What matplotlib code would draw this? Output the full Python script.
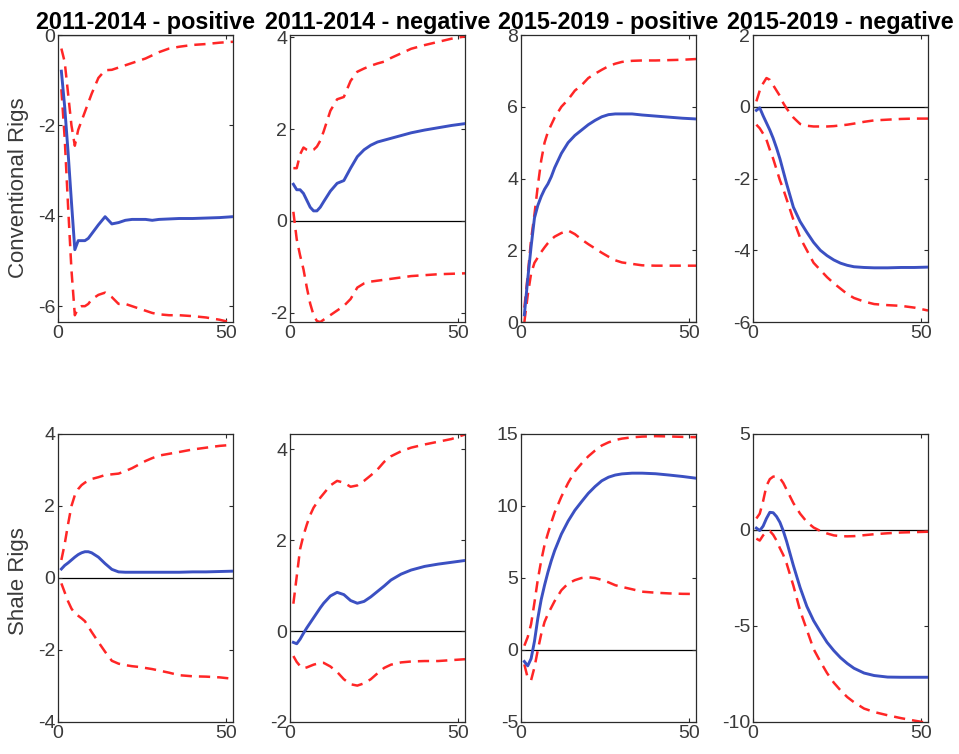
import matplotlib
matplotlib.use("Agg")
import matplotlib.pyplot as plt

plt.rcParams['font.family'] = ['Liberation Sans', 'DejaVu Sans']
plt.rcParams['axes.unicode_minus'] = False

# Horizon (weeks after the shock)
weeks = [1, 2, 3, 4, 5, 6, 7, 8, 9, 10, 12, 14, 16, 18, 20, 22, 24, 26, 28, 30, 33, 36, 40, 44, 48, 52]

col_titles = ["2011-2014 - positive", "2011-2014 - negative",
              "2015-2019 - positive", "2015-2019 - negative"]
row_labels = ["Conventional Rigs", "Shale Rigs"]

# Conventional rigs: impulse response (irf) with upper / lower bands
conv_1114_pos_irf = [-0.8, -1.6, -2.6, -3.7, -4.75, -4.55, -4.55, -4.55, -4.5, -4.4, -4.2, -4.02, -4.18, -4.15,
                     -4.1, -4.08, -4.08, -4.08, -4.1, -4.08, -4.07, -4.06, -4.06, -4.05, -4.04, -4.02]
conv_1114_pos_hi = [-0.3, -0.6, -1.3, -2.0, -2.45, -2.1, -1.9, -1.7, -1.5, -1.3, -0.95, -0.78, -0.77, -0.72,
                    -0.67, -0.62, -0.57, -0.52, -0.45, -0.38, -0.3, -0.26, -0.22, -0.2, -0.17, -0.15]
conv_1114_pos_lo = [-1.2, -2.3, -3.8, -5.2, -6.2, -6.05, -6.0, -6.0, -5.95, -5.85, -5.75, -5.7, -5.8, -5.95,
                    -5.95, -6.0, -6.05, -6.1, -6.15, -6.18, -6.2, -6.2, -6.22, -6.25, -6.3, -6.37]

conv_1114_neg_irf = [0.8, 0.68, 0.68, 0.6, 0.45, 0.3, 0.22, 0.22, 0.3, 0.42, 0.65, 0.82, 0.88, 1.15,
                     1.4, 1.55, 1.65, 1.72, 1.76, 1.8, 1.86, 1.92, 1.98, 2.03, 2.08, 2.12]
conv_1114_neg_hi = [1.15, 1.15, 1.45, 1.6, 1.55, 1.52, 1.55, 1.62, 1.75, 1.95, 2.4, 2.65, 2.7, 3.05,
                    3.25, 3.32, 3.38, 3.43, 3.47, 3.55, 3.65, 3.75, 3.83, 3.9, 3.97, 4.02]
conv_1114_neg_lo = [0.2, -0.4, -0.75, -1.05, -1.45, -1.8, -2.05, -2.18, -2.2, -2.15, -2.05, -1.95, -1.85, -1.7,
                    -1.45, -1.36, -1.32, -1.3, -1.28, -1.26, -1.23, -1.2, -1.18, -1.16, -1.15, -1.14]

conv_1519_pos_irf = [0.2, 1.2, 2.1, 2.9, 3.25, 3.5, 3.7, 3.85, 4.05, 4.3, 4.7, 5.0, 5.2, 5.35,
                     5.5, 5.62, 5.72, 5.78, 5.8, 5.8, 5.8, 5.77, 5.74, 5.71, 5.68, 5.66]
conv_1519_pos_hi = [0.4, 1.3, 2.3, 3.0, 3.8, 4.5, 5.0, 5.3, 5.5, 5.7, 6.0, 6.2, 6.45, 6.6,
                    6.8, 6.92, 7.03, 7.13, 7.2, 7.25, 7.28, 7.29, 7.29, 7.3, 7.31, 7.33]
conv_1519_pos_lo = [0.0, 0.75, 1.35, 1.65, 1.8, 1.95, 2.08, 2.2, 2.3, 2.38, 2.48, 2.55, 2.45, 2.3,
                    2.17, 2.05, 1.93, 1.82, 1.72, 1.66, 1.62, 1.58, 1.57, 1.57, 1.57, 1.57]

conv_1519_neg_irf = [-0.1, -0.03, -0.25, -0.45, -0.65, -0.88, -1.15, -1.45, -1.8, -2.15, -2.8, -3.2, -3.5, -3.78,
                     -4.0, -4.15, -4.27, -4.36, -4.42, -4.46, -4.48, -4.49, -4.49, -4.48, -4.48, -4.47]
conv_1519_neg_hi = [0.15, 0.45, 0.65, 0.8, 0.75, 0.6, 0.45, 0.3, 0.1, -0.05, -0.3, -0.48, -0.53, -0.55,
                    -0.55, -0.55, -0.54, -0.52, -0.5, -0.47, -0.42, -0.38, -0.36, -0.34, -0.33, -0.33]
conv_1519_neg_lo = [-0.5, -0.6, -0.75, -0.92, -1.2, -1.45, -1.75, -2.05, -2.3, -2.58, -3.15, -3.65, -4.0, -4.35,
                    -4.55, -4.75, -4.92, -5.07, -5.22, -5.33, -5.43, -5.5, -5.53, -5.55, -5.6, -5.68]

# Shale rigs: impulse response (irf) with upper / lower bands
shale_1114_pos_irf = [0.25, 0.35, 0.42, 0.5, 0.58, 0.65, 0.7, 0.73, 0.73, 0.7, 0.58, 0.4, 0.24, 0.17,
                      0.16, 0.16, 0.16, 0.16, 0.16, 0.16, 0.16, 0.16, 0.17, 0.17, 0.18, 0.19]
shale_1114_pos_hi = [0.5, 0.95, 1.5, 2.0, 2.3, 2.47, 2.58, 2.65, 2.7, 2.75, 2.8, 2.86, 2.88, 2.9,
                     2.97, 3.05, 3.15, 3.25, 3.33, 3.4, 3.45, 3.5, 3.57, 3.62, 3.67, 3.7]
shale_1114_pos_lo = [-0.15, -0.4, -0.65, -0.85, -0.98, -1.05, -1.12, -1.2, -1.35, -1.5, -1.78, -2.05, -2.3, -2.38,
                     -2.42, -2.45, -2.47, -2.5, -2.53, -2.57, -2.63, -2.7, -2.73, -2.74, -2.76, -2.8]

shale_1114_neg_irf = [-0.25, -0.28, -0.18, -0.05, 0.07, 0.18, 0.29, 0.4, 0.51, 0.61, 0.77, 0.85, 0.8, 0.67,
                      0.61, 0.65, 0.75, 0.87, 0.99, 1.12, 1.25, 1.34, 1.42, 1.47, 1.51, 1.55]
shale_1114_neg_hi = [0.6, 1.2, 1.8, 2.1, 2.34, 2.55, 2.71, 2.82, 2.93, 3.02, 3.2, 3.3, 3.26, 3.17,
                     3.2, 3.3, 3.42, 3.55, 3.72, 3.84, 3.95, 4.03, 4.1, 4.16, 4.22, 4.32]
shale_1114_neg_lo = [-0.55, -0.68, -0.77, -0.82, -0.8, -0.77, -0.74, -0.72, -0.7, -0.7, -0.78, -0.9, -1.06, -1.17,
                     -1.2, -1.15, -1.06, -0.93, -0.81, -0.74, -0.69, -0.67, -0.66, -0.66, -0.64, -0.62]

shale_1519_pos_irf = [-0.8, -1.1, -0.6, 0.6, 2.2, 3.5, 4.5, 5.4, 6.2, 6.9, 8.05, 8.95, 9.7, 10.3,
                      10.88, 11.35, 11.75, 12.0, 12.15, 12.23, 12.28, 12.28, 12.24, 12.15, 12.05, 11.93]
shale_1519_pos_hi = [0.3, 0.9, 1.8, 3.3, 4.9, 6.2, 7.3, 8.1, 8.85, 9.55, 10.65, 11.6, 12.4, 12.95,
                     13.45, 13.85, 14.2, 14.42, 14.58, 14.68, 14.77, 14.82, 14.85, 14.83, 14.8, 14.78]
shale_1519_pos_lo = [-1.0, -1.95, -2.1, -1.2, 0.0, 1.1, 1.95, 2.5, 2.95, 3.4, 4.15, 4.62, 4.85, 5.0,
                     5.05, 5.0, 4.87, 4.7, 4.5, 4.38, 4.22, 4.05, 3.98, 3.93, 3.9, 3.89]

shale_1519_neg_irf = [0.1, -0.03, 0.2, 0.6, 0.92, 0.9, 0.7, 0.4, -0.05, -0.6, -1.85, -3.0, -3.98, -4.72,
                      -5.3, -5.85, -6.28, -6.65, -6.95, -7.2, -7.45, -7.58, -7.66, -7.67, -7.67, -7.67]
shale_1519_neg_hi = [0.6, 0.85, 1.5, 2.3, 2.65, 2.78, 2.8, 2.7, 2.45, 2.1, 1.4, 0.85, 0.42, 0.13,
                     -0.05, -0.18, -0.28, -0.32, -0.33, -0.32, -0.27, -0.22, -0.17, -0.13, -0.11, -0.09]
shale_1519_neg_lo = [-0.45, -0.55, -0.28, -0.1, -0.05, -0.25, -0.55, -0.95, -1.3, -1.75, -2.9, -4.2, -5.2, -6.2,
                     -6.85, -7.45, -7.95, -8.35, -8.7, -8.97, -9.3, -9.48, -9.65, -9.8, -9.93, -10.05]

panels = [
    [(conv_1114_pos_irf, conv_1114_pos_hi, conv_1114_pos_lo),
     (conv_1114_neg_irf, conv_1114_neg_hi, conv_1114_neg_lo),
     (conv_1519_pos_irf, conv_1519_pos_hi, conv_1519_pos_lo),
     (conv_1519_neg_irf, conv_1519_neg_hi, conv_1519_neg_lo)],
    [(shale_1114_pos_irf, shale_1114_pos_hi, shale_1114_pos_lo),
     (shale_1114_neg_irf, shale_1114_neg_hi, shale_1114_neg_lo),
     (shale_1519_pos_irf, shale_1519_pos_hi, shale_1519_pos_lo),
     (shale_1519_neg_irf, shale_1519_neg_hi, shale_1519_neg_lo)],
]

y_limits = [[(-6.35, 0), (-2.2, 4.05), (0, 8), (-6, 2)],
            [(-4, 4), (-2, 4.33), (-5, 15), (-10, 5)]]
y_ticks = [[[-6, -4, -2, 0], [-2, 0, 2, 4], [0, 2, 4, 6, 8], [-6, -4, -2, 0, 2]],
           [[-4, -2, 0, 2, 4], [-2, 0, 2, 4], [-5, 0, 5, 10, 15], [-10, -5, 0, 5]]]
x_ticks = [0, 50]
x_limits = (0, 52)

BLUE = '#3b50c2'
RED = '#ff2626'
INK = '#2b2b2b'
LABEL = '#3a3a3a'

fig = plt.figure(figsize=(9.59, 7.54), dpi=100)

col_left = [58, 290, 521, 753]
row_top = [35, 434]
row_bottom = [322, 722]
label_y = [0.467, 0.49]
W, H = 959.0, 754.0
ax_w = 175

for r in range(2):
    for c in range(4):
        left = col_left[c] / W
        bottom = 1 - row_bottom[r] / H
        height = (row_bottom[r] - row_top[r]) / H
        ax = fig.add_axes([left, bottom, ax_w / W, height])
        irf, hi, lo = panels[r][c]
        ax.axhline(0, color='black', lw=0.9, zorder=1)
        ax.plot(weeks, irf, color=BLUE, lw=2.1, zorder=3)
        ax.plot(weeks, hi, color=RED, lw=1.8, dashes=(4.5, 2.8), zorder=2)
        ax.plot(weeks, lo, color=RED, lw=1.8, dashes=(4.5, 2.8), zorder=2)
        ax.set_xlim(*x_limits)
        ax.set_ylim(*y_limits[r][c])
        ax.set_xticks(x_ticks)
        ax.set_yticks(y_ticks[r][c])
        ax.tick_params(direction='in', length=3, width=0.8, colors=INK,
                       labelsize=14, top=True, right=True, pad=2)
        ax.tick_params(labelcolor=LABEL)
        for s in ax.spines.values():
            s.set_color(INK)
            s.set_linewidth(0.9)
        if r == 0:
            ax.set_title(col_titles[c], fontsize=16.8, fontweight='bold', pad=4.5, color='black')
        if c == 0:
            ax.set_ylabel(row_labels[r], fontsize=16, color=LABEL)
            ax.yaxis.set_label_coords(-0.166, label_y[r])

fig.savefig('out.png', dpi=100)
